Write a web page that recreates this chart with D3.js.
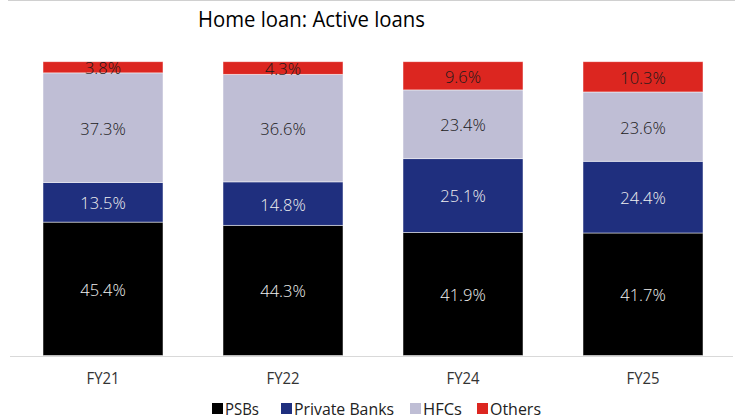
<!DOCTYPE html>
<html>
<head>
<meta charset="utf-8">
<script src="https://cdn.jsdelivr.net/npm/d3@7"></script>
<style>
  body { margin: 0; background: #fff; }
  text { font-family: "Open Sans", "DejaVu Sans", sans-serif; }
</style>
</head>
<body>
<div id="chart"></div>
<script>
var years = ["FY21", "FY22", "FY24", "FY25"];
var seriesNames = ["PSBs", "Private Banks", "HFCs", "Others"];
var psbs = [45.4, 44.3, 41.9, 41.7];
var privateBanks = [13.5, 14.8, 25.1, 24.4];
var hfcs = [37.3, 36.6, 23.4, 23.6];
var others = [3.8, 4.3, 9.6, 10.3];

var colors = ["#000000", "#1f2f7e", "#bfbed5", "#dc2620"];
var labelColors = ["#f0f0f0", "#f0f0f0", "#1a1a1a", "#1a1a1a"];

var width = 743, height = 420;

var svg = d3.select("#chart").append("svg")
    .attr("width", width)
    .attr("height", height);

// faint rule at the top edge
svg.append("line")
    .attr("x1", 8).attr("x2", 735)
    .attr("y1", 0.5).attr("y2", 0.5)
    .attr("stroke", "#d0d0d0");

var rows = years.map(function (y, i) {
    return { year: y, "PSBs": psbs[i], "Private Banks": privateBanks[i], "HFCs": hfcs[i], "Others": others[i] };
});

var stack = d3.stack().keys(seriesNames);
var layers = stack(rows);

var x = d3.scaleBand()
    .domain(years)
    .range([13, 733])
    .paddingInner(1 / 3)
    .paddingOuter(1 / 6);

var y = d3.scaleLinear()
    .domain([0, 100])
    .range([355.5, 61.7]);

var g = svg.selectAll("g.layer")
    .data(layers)
    .enter()
    .append("g")
    .attr("class", "layer")
    .attr("fill", function (d, i) { return colors[i]; });

g.selectAll("rect")
    .data(function (d) { return d; })
    .enter()
    .append("rect")
    .attr("x", function (d) { return x(d.data.year); })
    .attr("width", x.bandwidth())
    .attr("y", function (d) { return y(d[1]); })
    .attr("height", function (d) { return y(d[0]) - y(d[1]); })
    .attr("stroke", "#ffffff")
    .attr("stroke-opacity", 0.6)
    .attr("stroke-width", 0.8);

g.selectAll("text")
    .data(function (d, i) { return d.map(function (p) { return { p: p, i: i }; }); })
    .enter()
    .append("text")
    .attr("x", function (d) { return x(d.p.data.year) + x.bandwidth() / 2; })
    .attr("y", function (d) { return (y(d.p[0]) + y(d.p[1])) / 2 + 1; })
    .attr("dy", "0.36em")
    .attr("text-anchor", "middle")
    .attr("fill", function (d) { return labelColors[d.i]; })
    .style("font-size", "16.5px")
    .style("font-weight", 300)
    .text(function (d) { return (d.p[1] - d.p[0]).toFixed(1) + "%"; });

// x axis
var xAxis = svg.append("g")
    .attr("transform", "translate(0," + 356 + ")")
    .call(d3.axisBottom(x).tickSize(0).tickPadding(16));
xAxis.select(".domain")
    .attr("d", "M10,0.5H733")
    .attr("stroke", "#d9d9d9");
xAxis.selectAll("text")
    .attr("fill", "#333")
    .attr("textLength", 33)
    .attr("lengthAdjust", "spacingAndGlyphs")
    .style("font-size", "17px");

// title
svg.append("text")
    .attr("x", 311.5)
    .attr("y", 27)
    .attr("text-anchor", "middle")
    .attr("fill", "#000")
    .attr("textLength", 227)
    .attr("lengthAdjust", "spacingAndGlyphs")
    .style("font-size", "21px")
    .text("Home loan: Active loans");

// legend
var legendX = [212, 281, 410, 477];
var legendLen = [34, 100, 39, 51];
var legend = svg.selectAll("g.legend")
    .data(seriesNames)
    .enter()
    .append("g")
    .attr("class", "legend")
    .attr("transform", function (d, i) { return "translate(" + legendX[i] + ",408)"; });

legend.append("rect")
    .attr("x", 0).attr("y", -5)
    .attr("width", 11).attr("height", 11)
    .attr("fill", function (d, i) { return colors[i]; });

legend.append("text")
    .attr("x", 13)
    .attr("dy", "0.4em")
    .attr("fill", "#222")
    .attr("textLength", function (d, i) { return legendLen[i]; })
    .attr("lengthAdjust", "spacingAndGlyphs")
    .style("font-size", "17px")
    .text(function (d) { return d; });
</script>
</body>
</html>
